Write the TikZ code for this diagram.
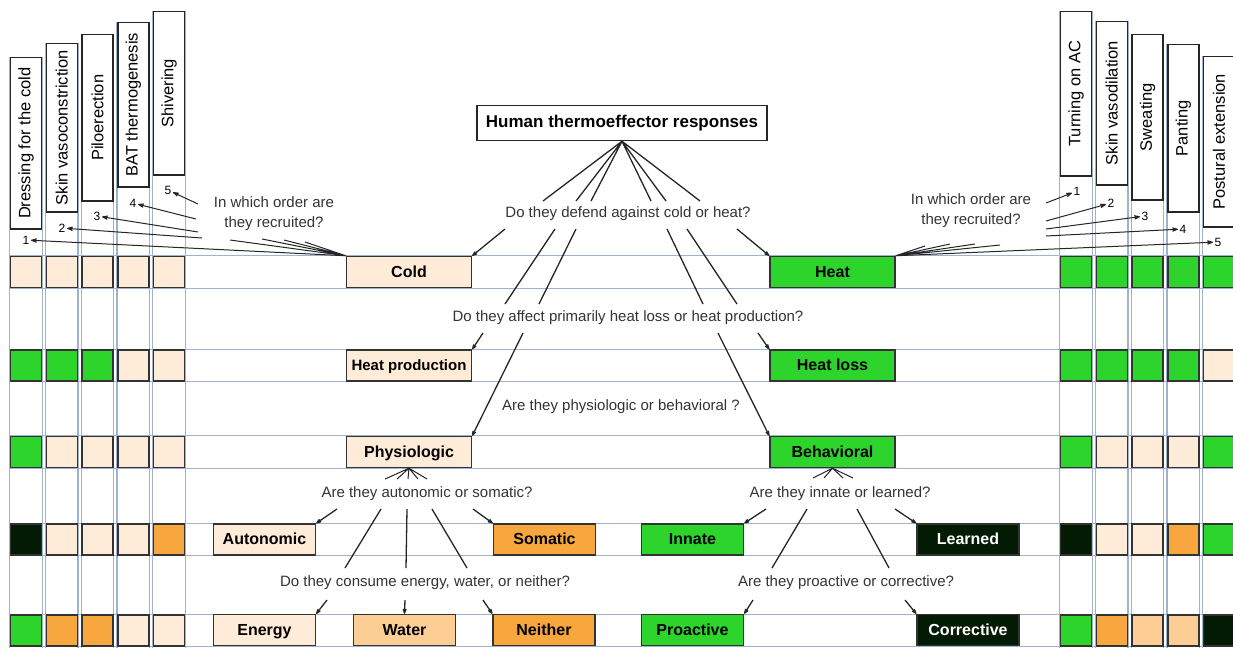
\documentclass[tikz,border=0pt]{standalone}
\usepackage{fontspec}
\setmainfont{Liberation Sans}
\usepackage{graphicx}
\usetikzlibrary{positioning,arrows.meta,backgrounds}
\definecolor{peach}{RGB}{255,236,216}
\definecolor{leaf}{RGB}{44,212,44}
\definecolor{night}{RGB}{3,26,3}
\definecolor{amber}{RGB}{247,167,62}
\definecolor{apricot}{RGB}{252,205,148}
\definecolor{gridblue}{RGB}{160,178,206}
\tikzset{
>={Stealth[round,length=8pt,width=5.5pt]},
}

\begin{document}
\begin{tikzpicture}
        [x=1pt, y=-1pt,
        cell/.style={draw=black!80, line width=1.5pt, fill=#1, minimum width=31pt, minimum height=31pt, inner sep=0pt},
        head/.style={draw=black!85, line width=1.5pt, fill=white, minimum width=31pt, minimum height=#1, inner sep=0pt, font=\fontsize{16.5}{18}\selectfont},
        box/.style={draw=black!80, line width=1.5pt, fill=#1, minimum width=125pt, minimum height=31pt, inner sep=0pt, text height=11.5pt, text depth=1pt, font=\bfseries\fontsize{16}{18}\selectfont},
        choice/.style={box=#1, minimum width=102pt},
        ask/.style={font=\fontsize{15}{20}\selectfont, text=black!80, align=center, inner sep=0pt},
        num/.style={font=\fontsize{12}{13}\selectfont, inner sep=1.5pt},
        grid/.style={draw=gridblue, line width=1.4pt},
        link/.style={draw=black!85, line width=1.3pt},
        fine/.style={draw=black!85, line width=1pt}
        ]
        \useasboundingbox (0,0) rectangle (1233,648);
        \coordinate (lft) at (9,0);
        \coordinate (rgt) at (1233,0);
        \coordinate (bot) at (0,648);

        \node[cell=peach] (l11) at (26,272) {};
        \node[cell=peach] (l12) [right=3.25pt of l11] {};
        \node[cell=peach] (l13) [right=3.25pt of l12] {};
        \node[cell=peach] (l14) [right=3.25pt of l13] {};
        \node[cell=peach] (l15) [right=3.25pt of l14] {};

        \node[cell=leaf] (l21) at (26,365.5) {};
        \node[cell=leaf] (l22) [right=3.25pt of l21] {};
        \node[cell=leaf] (l23) [right=3.25pt of l22] {};
        \node[cell=peach] (l24) [right=3.25pt of l23] {};
        \node[cell=peach] (l25) [right=3.25pt of l24] {};

        \node[cell=leaf] (l31) at (26,452) {};
        \node[cell=peach] (l32) [right=3.25pt of l31] {};
        \node[cell=peach] (l33) [right=3.25pt of l32] {};
        \node[cell=peach] (l34) [right=3.25pt of l33] {};
        \node[cell=peach] (l35) [right=3.25pt of l34] {};

        \node[cell=night] (l41) at (26,539.5) {};
        \node[cell=peach] (l42) [right=3.25pt of l41] {};
        \node[cell=peach] (l43) [right=3.25pt of l42] {};
        \node[cell=peach] (l44) [right=3.25pt of l43] {};
        \node[cell=amber] (l45) [right=3.25pt of l44] {};

        \node[cell=leaf] (l51) at (26,630.5) {};
        \node[cell=amber] (l52) [right=3.25pt of l51] {};
        \node[cell=amber] (l53) [right=3.25pt of l52] {};
        \node[cell=peach] (l54) [right=3.25pt of l53] {};
        \node[cell=peach] (l55) [right=3.25pt of l54] {};

        \node[cell=leaf] (r11) at (1076,272) {};
        \node[cell=leaf] (r12) [right=3.25pt of r11] {};
        \node[cell=leaf] (r13) [right=3.25pt of r12] {};
        \node[cell=leaf] (r14) [right=3.25pt of r13] {};
        \node[cell=leaf] (r15) [right=3.25pt of r14] {};

        \node[cell=leaf] (r21) at (1076,365.5) {};
        \node[cell=leaf] (r22) [right=3.25pt of r21] {};
        \node[cell=leaf] (r23) [right=3.25pt of r22] {};
        \node[cell=leaf] (r24) [right=3.25pt of r23] {};
        \node[cell=peach] (r25) [right=3.25pt of r24] {};

        \node[cell=leaf] (r31) at (1076,452) {};
        \node[cell=peach] (r32) [right=3.25pt of r31] {};
        \node[cell=peach] (r33) [right=3.25pt of r32] {};
        \node[cell=peach] (r34) [right=3.25pt of r33] {};
        \node[cell=leaf] (r35) [right=3.25pt of r34] {};

        \node[cell=night] (r41) at (1076,539.5) {};
        \node[cell=peach] (r42) [right=3.25pt of r41] {};
        \node[cell=peach] (r43) [right=3.25pt of r42] {};
        \node[cell=amber] (r44) [right=3.25pt of r43] {};
        \node[cell=leaf] (r45) [right=3.25pt of r44] {};

        \node[cell=leaf] (r51) at (1076,630.5) {};
        \node[cell=amber] (r52) [right=3.25pt of r51] {};
        \node[cell=apricot] (r53) [right=3.25pt of r52] {};
        \node[cell=apricot] (r54) [right=3.25pt of r53] {};
        \node[cell=night] (r55) [right=3.25pt of r54] {};

        \node[head=171.5pt] (hl1) [above=26pt of l11] {\rotatebox{90}{Dressing for the cold}};
        \node[head=168.5pt] (hl2) [above=43pt of l12] {\rotatebox{90}{Skin vasoconstriction}};
        \node[head=166.5pt] (hl3) [above=54pt of l13] {\rotatebox{90}{Piloerection}};
        \node[head=164.5pt] (hl4) [above=68pt of l14] {\rotatebox{90}{BAT thermogenesis}};
        \node[head=163.5pt] (hl5) [above=80pt of l15] {\rotatebox{90}{Shivering}};

        \node[head=164.5pt] (hr1) [above=79pt of r11] {\rotatebox{90}{Turning on AC}};
        \node[head=163.5pt] (hr2) [above=70pt of r12] {\rotatebox{90}{Skin vasodilation}};
        \node[head=165.5pt] (hr3) [above=55pt of r13] {\rotatebox{90}{Sweating}};
        \node[head=167.5pt] (hr4) [above=43pt of r14] {\rotatebox{90}{Panting}};
        \node[head=170.5pt] (hr5) [above=28pt of r15] {\rotatebox{90}{Postural extension}};

        \node[draw=black!85, line width=1.5pt, fill=white, minimum width=290pt, minimum height=35pt, font=\bfseries\fontsize{17}{19}\selectfont] (top) at (622,123) {Human thermoeffector responses};

        \node[box=peach] (cold) at (409,272) {Cold};
        \node[box=leaf] (heat) [right=297pt of cold] {Heat};
        \node[box=peach, font=\bfseries\fontsize{15}{18}\selectfont] (hprod) [below=61pt of cold] {Heat production};
        \node[box=leaf] (hloss) [right=297pt of hprod] {Heat loss};
        \node[box=peach] (phys) [below=54pt of hprod] {Physiologic};
        \node[box=leaf] (behav) [right=297pt of phys] {Behavioral};

        \node[choice=peach] (auto) at (264.5,539.5) {Autonomic};
        \node[choice=amber] (soma) [right=176.5pt of auto] {Somatic};
        \node[choice=leaf] (innate) at (692.5,539.5) {Innate};
        \node[choice=night, text=white] (learn) [right=172pt of innate] {Learned};
        \node[choice=peach] (energy) [below=58pt of auto] {Energy};
        \node[choice=apricot] (water) [right=36.5pt of energy] {Water};
        \node[choice=amber] (neither) [right=36pt of water] {Neither};
        \node[choice=leaf] (proact) [below=58pt of innate] {Proactive};
        \node[choice=night, text=white] (correct) [below=58pt of learn] {Corrective};

        \node[ask] (q1) at (628,214) {Do they defend against cold or heat?};
        \node[ask] (q2) at (628,318) {Do they affect primarily heat loss or heat production?};
        \node[ask] (q3) at (621,407) {Are they physiologic or behavioral ?};
        \node[ask] (q4) at (427,494) {Are they autonomic or somatic?};
        \node[ask] (q5) at (425,583) {Do they consume energy, water, or neither?};
        \node[ask] (q6) at (840,494) {Are they innate or learned?};
        \node[ask] (q7) at (846,583) {Are they proactive or corrective?};
        \node[ask] (ql) at (274,214) {In which order are\\they recruited?};
        \node[ask] (qr) at (971,211) {In which order are\\they recruited?};

        \node[num] (nl1) at (26,240) {1};
        \node[num] (nl2) at (62,228) {2};
        \node[num] (nl3) at (97,216) {3};
        \node[num] (nl4) at (133,203) {4};
        \node[num] (nl5) at (168,190) {5};
        \node[num] (nr1) at (1077,191) {1};
        \node[num] (nr2) at (1111,203) {2};
        \node[num] (nr3) at (1145,216) {3};
        \node[num] (nr4) at (1183,229) {4};
        \node[num] (nr5) at (1218,242) {5};

        \coordinate (t1) at (543,201);
        \coordinate (t2) at (576,201);
        \coordinate (t3) at (591,201);
        \coordinate (t4) at (651,201);
        \coordinate (t5) at (666,201);
        \coordinate (t6) at (700,201);
        \coordinate (u1) at (505,229);
        \coordinate (u2) at (555,229);
        \coordinate (u3) at (576,229);
        \coordinate (u4) at (667,229);
        \coordinate (u5) at (687,229);
        \coordinate (u6) at (737,229);
        \coordinate (v2) at (505,304);
        \coordinate (v3) at (539,304);
        \coordinate (v4) at (703,304);
        \coordinate (v5) at (737,304);
        \coordinate (w1) at (483,333);
        \coordinate (w2) at (523,333);
        \coordinate (w3) at (718,333);
        \coordinate (w4) at (758,333);

        \coordinate (pf1) at (385,479);
        \coordinate (pf2) at (397,479);
        \coordinate (pf3) at (408,479);
        \coordinate (pf4) at (418,479);
        \coordinate (pf5) at (427,479);
        \coordinate (s1) at (337,509);
        \coordinate (s2) at (381,509);
        \coordinate (s3) at (407,509);
        \coordinate (s4) at (432,509);
        \coordinate (s5) at (473,509);
        \coordinate (e2) at (345,568);
        \coordinate (e3) at (406,568);
        \coordinate (e4) at (467,568);
        \coordinate (f1) at (327,600);
        \coordinate (f2) at (405,600);
        \coordinate (f3) at (483,600);

        \coordinate (bf1) at (813,478);
        \coordinate (bf2) at (824,478);
        \coordinate (bf3) at (843,478);
        \coordinate (bf4) at (853,478);
        \coordinate (g1) at (766,509);
        \coordinate (g2) at (807,509);
        \coordinate (g3) at (857,509);
        \coordinate (g4) at (895,509);
        \coordinate (h2) at (772,568);
        \coordinate (h3) at (889,568);
        \coordinate (k1) at (753,600);
        \coordinate (k2) at (905,600);

        \coordinate (oa2) at (230,240);
        \coordinate (oa3) at (262,239);
        \coordinate (oa4) at (284,240);
        \coordinate (oa5) at (305,242);
        \coordinate (ob2) at (202,238);
        \coordinate (ob3) at (198,232);
        \coordinate (ob4) at (196,219);
        \coordinate (ob5) at (198,204);
        \coordinate (ra1) at (925,246);
        \coordinate (ra2) at (950,244);
        \coordinate (ra3) at (975,244);
        \coordinate (ra4) at (1000,245);
        \coordinate (rb1) at (1046,203);
        \coordinate (rb2) at (1046,221);
        \coordinate (rb3) at (1046,229);
        \coordinate (rb4) at (1046,236);

        \draw[link] (top.south) -- (t1) (top.south) -- (t2) (top.south) -- (t3)
                    (top.south) -- (t4) (top.south) -- (t5) (top.south) -- (t6);
        \draw[link, ->] (u1) -- (cold.north east);
        \draw[link] (u2) -- (v2) (u3) -- (v3) (u4) -- (v4) (u5) -- (v5);
        \draw[link, ->] (u6) -- (heat.north west);
        \draw[link, ->] (w1) -- (hprod.north east);
        \draw[link, ->] (w2) -- (phys.north east);
        \draw[link, ->] (w3) -- (behav.north west);
        \draw[link, ->] (w4) -- (hloss.north west);

        \draw[fine] (phys.south) -- (pf1) (phys.south) -- (pf2) (phys.south) -- (pf3)
                    (phys.south) -- (pf4) (phys.south) -- (pf5);
        \draw[link, ->] (s1) -- (auto.north east);
        \draw[link] (s2) -- (e2) (s3) -- (e3) (s4) -- (e4);
        \draw[link, ->] (s5) -- (soma.north west);
        \draw[link, ->] (f1) -- (energy.north east);
        \draw[link, ->] (f2) -- (water.north);
        \draw[link, ->] (f3) -- (neither.north west);

        \draw[fine] (behav.south) -- (bf1) (behav.south) -- (bf2) (behav.south) -- (bf3)
                    (behav.south) -- (bf4);
        \draw[link, ->] (g1) -- (innate.north east);
        \draw[link] (g2) -- (h2) (g3) -- (h3);
        \draw[link, ->] (g4) -- (learn.north west);
        \draw[link, ->] (k1) -- (proact.north east);
        \draw[link, ->] (k2) -- (correct.north west);

        \draw[fine, ->] (cold.north west) -- (nl1);
        \draw[fine] (cold.north west) -- (oa2) (cold.north west) -- (oa3)
                    (cold.north west) -- (oa4) (cold.north west) -- (oa5);
        \draw[fine, ->] (ob2) -- (nl2);
        \draw[fine, ->] (ob3) -- (nl3);
        \draw[fine, ->] (ob4) -- (nl4);
        \draw[fine, ->] (ob5) -- (nl5);

        \draw[fine, ->] (heat.north east) -- (nr5);
        \draw[fine] (heat.north east) -- (ra1) (heat.north east) -- (ra2)
                    (heat.north east) -- (ra3) (heat.north east) -- (ra4);
        \draw[fine, ->] (rb1) -- (nr1);
        \draw[fine, ->] (rb2) -- (nr2);
        \draw[fine, ->] (rb3) -- (nr3);
        \draw[fine, ->] (rb4) -- (nr4);

        \begin{pgfonlayer}{background}
        \draw[grid] (hl1.north west) -- (hl1.north west |- bot) (hl1.north east) -- (hl1.north east |- bot);
        \draw[grid] (hl2.north west) -- (hl2.north west |- bot) (hl2.north east) -- (hl2.north east |- bot);
        \draw[grid] (hl3.north west) -- (hl3.north west |- bot) (hl3.north east) -- (hl3.north east |- bot);
        \draw[grid] (hl4.north west) -- (hl4.north west |- bot) (hl4.north east) -- (hl4.north east |- bot);
        \draw[grid] (hl5.north west) -- (hl5.north west |- bot) (hl5.north east) -- (hl5.north east |- bot);
        \draw[grid] (hr1.north west) -- (hr1.north west |- bot) (hr1.north east) -- (hr1.north east |- bot);
        \draw[grid] (hr2.north west) -- (hr2.north west |- bot) (hr2.north east) -- (hr2.north east |- bot);
        \draw[grid] (hr3.north west) -- (hr3.north west |- bot) (hr3.north east) -- (hr3.north east |- bot);
        \draw[grid] (hr4.north west) -- (hr4.north west |- bot) (hr4.north east) -- (hr4.north east |- bot);
        \draw[grid] (hr5.north west) -- (hr5.north west |- bot) (hr5.north east) -- (hr5.north east |- bot);
        \draw[grid] (lft |- l11.north) -- (rgt |- l11.north) (lft |- l11.south) -- (rgt |- l11.south);
        \draw[grid] (lft |- l21.north) -- (rgt |- l21.north) (lft |- l21.south) -- (rgt |- l21.south);
        \draw[grid] (lft |- l31.north) -- (rgt |- l31.north) (lft |- l31.south) -- (rgt |- l31.south);
        \draw[grid] (lft |- l41.north) -- (rgt |- l41.north) (lft |- l41.south) -- (rgt |- l41.south);
        \draw[grid] (lft |- l51.north) -- (rgt |- l51.north) (lft |- l51.south) -- (rgt |- l51.south);
        \end{pgfonlayer}
\end{tikzpicture}
\end{document}
